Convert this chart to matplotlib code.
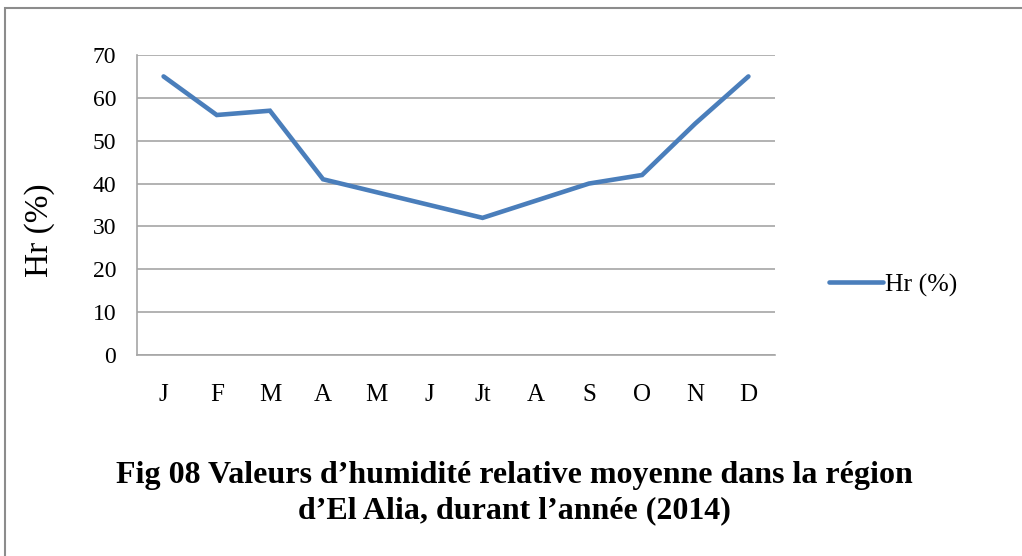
import matplotlib
matplotlib.use("Agg")
import matplotlib.pyplot as plt
from matplotlib.patches import Rectangle

months = ["J", "F", "M", "A", "M", "J", "Jt", "A", "S", "O", "N", "D"]
hr = [65, 56, 57, 41, 38, 35, 32, 36, 40, 42, 54, 65]
yticks = [0, 10, 20, 30, 40, 50, 60, 70]
series_name = "Hr (%)"
title = "Fig 08 Valeurs d\u2019humidit\u00e9 relative moyenne dans la r\u00e9gion\nd\u2019El Alia, durant l\u2019ann\u00e9e (2014)"

plt.rcParams['font.family'] = ['Liberation Serif', 'DejaVu Serif']

fig = plt.figure(figsize=(10.22, 5.56), dpi=100)
fig.patch.set_facecolor("white")

# outer frame
fig.patches.append(Rectangle((5/1022, -0.1), 1.2, 1 - 8/556 + 0.1, transform=fig.transFigure,
                             fill=False, edgecolor="#8c8c8c", linewidth=1.5))

ax = fig.add_axes([137/1022, 1 - 355/556, (775-137)/1022, 300/556])
x = list(range(len(months)))
ax.plot(x, hr, color="#4a7ebb", linewidth=3.3, solid_capstyle="round", solid_joinstyle="miter", label=series_name, zorder=3)
ax.set_xlim(-0.5, len(months) - 0.5)
ax.set_ylim(0, 70)
ax.set_yticks(yticks)
ax.set_xticks(x)
ax.set_xticklabels(months)
ax.yaxis.grid(True, color="#a6a6a6", linewidth=1.2)
ax.set_axisbelow(True)
for s in ["top", "right"]:
    ax.spines[s].set_visible(False)
for s in ["left", "bottom"]:
    ax.spines[s].set_color("#a6a6a6")
    ax.spines[s].set_linewidth(1.2)
ax.tick_params(axis="y", length=0, labelsize=17, pad=15)
ax.tick_params(axis="x", length=0, labelsize=18, pad=21)
ax.set_ylabel(series_name, fontsize=24)
ax.yaxis.set_label_coords(-0.128, 0.417)

leg = ax.legend(loc="center left", bbox_to_anchor=(1.048, 0.233), frameon=False, fontsize=18.5,
                handlelength=2.1, handletextpad=0.1)

fig.text(0.503, 1 - 493/556, title, ha="center", va="center", fontsize=23, fontweight="bold",
         linespacing=1.25)

fig.savefig("out.png", dpi=100, facecolor="white")
